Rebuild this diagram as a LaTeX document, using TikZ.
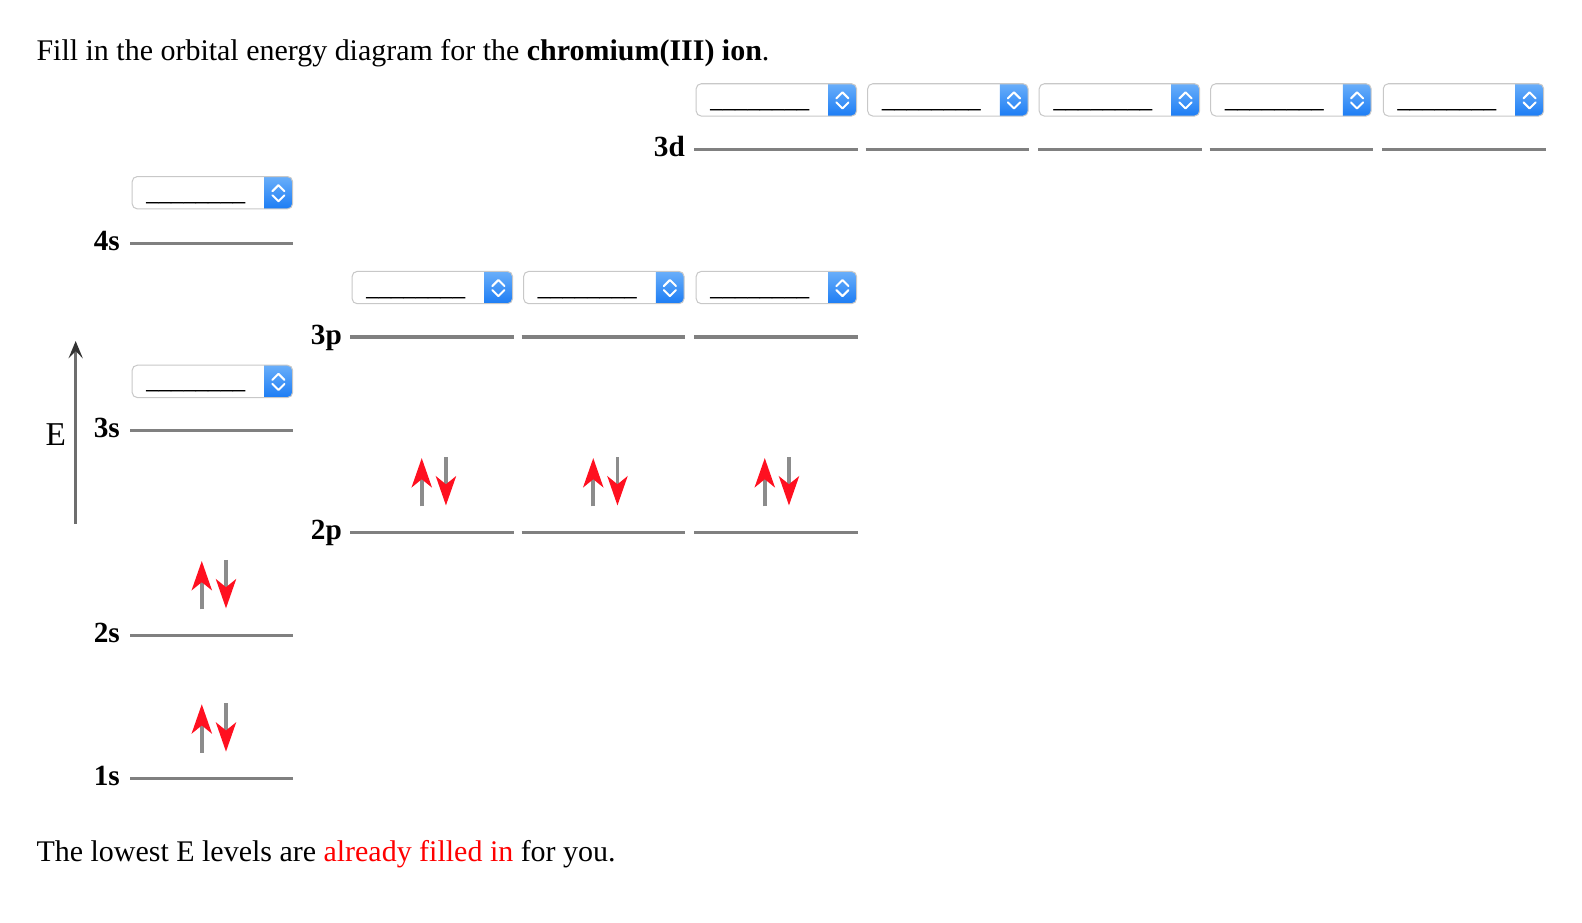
\documentclass[tikz,border=0pt]{standalone}
\usepackage{fontspec}
\setmainfont{Liberation Serif}
\newfontfamily\ddfont{Liberation Sans}
\usetikzlibrary{arrows.meta}
\definecolor{lvl}{HTML}{808080}
\definecolor{ddblueA}{HTML}{6CB0FA}
\definecolor{ddblueB}{HTML}{1A7BF4}
\definecolor{ddborder}{HTML}{C8C8C8}
\definecolor{txtred}{HTML}{FF0000}
\definecolor{spinred}{HTML}{FF1020}
\definecolor{spingray}{HTML}{8C8C8C}
\definecolor{eaxis}{HTML}{6E6E6E}
\newcommand\dropdown[3]{%
  \begin{scope}[shift={(#2,#3)}]
    \fill[white, rounded corners=5pt] (0,0) rectangle (159,32);
    \begin{scope}
      \clip[rounded corners=5pt] (0,0) rectangle (159,32);
      \shade[top color=ddblueA, bottom color=ddblueB] (131,-1) rectangle (160,33);
    \end{scope}
    \draw[ddborder, line width=1pt, rounded corners=5pt] (0,0) rectangle (159,32);
    \draw[chev] (139,14.5) -- (145,8.5) -- (151,14.5);
    \draw[chev] (139,18.5) -- (145,24.5) -- (151,18.5);
    \node[ddtext] (#1) at (14,22.5) {\_\_\_\_\_\_\_\_};
  \end{scope}}
\newcommand\spinpair[2]{%
  \coordinate (ub) at (#1-12,#2-26); \coordinate (ut) at (#1-12,#2-74);
  \coordinate (dt) at (#1+12,#2-75); \coordinate (db) at (#1+12,#2-27);
  \draw[spin] (ub) -- (ut);
  \draw[spin] (dt) -- (db);}
\begin{document}
\begin{tikzpicture}[x=1pt,y=-1pt,
  level/.style={draw=lvl, line width=3pt},
  lbl/.style={font=\fontsize{29}{30}\selectfont\bfseries, anchor=base east, inner sep=0pt},
  body/.style={font=\fontsize{29.7}{31}\selectfont, anchor=base west, inner sep=0pt},
  chev/.style={draw=white, line width=2pt, line cap=round, line join=round},
  ddtext/.style={font=\ddfont\fontsize{22}{24}\selectfont, anchor=base west, inner sep=0pt},
  spin/.style={draw=spingray, line width=3.5pt, -{Stealth[spinred, length=29pt, width=20pt, inset=8pt]}},
]
\useasboundingbox[fill=white] (0,0) rectangle (1568,914);

% title
\node[body] (title) at (36,59.5) {Fill in the orbital energy diagram for the \textbf{chromium(III) ion}.};

% dropdowns
\dropdown{dd3da}{690}{83}
\dropdown{dd3db}{860}{83}
\dropdown{dd3dc}{1030}{83}
\dropdown{dd3dd}{1200}{83}
\dropdown{dd3de}{1371}{83}
\dropdown{dd4s}{131}{175}
\dropdown{dd3pa}{349}{269}
\dropdown{dd3pb}{519}{269}
\dropdown{dd3pc}{690}{269}
\dropdown{dd3s}{131}{362}

% 3d
\node[lbl] (l3d) at (679,155) {3d};
\foreach \a in {688,858,1029,1199,1370} \draw[level] (\a,148) -- ++(162,0);
% 4s
\node[lbl] (l4s) at (119,248) {4s};
\draw[level] (129,241) -- (290,241);
% 3p
\node[lbl] (l3p) at (339,341) {3p};
\foreach \a in {347,517,688} \draw[level] (\a,334) -- ++(162,0);
% 3s
\node[lbl] (l3s) at (119,434) {3s};
\draw[level] (129,427) -- (290,427);
% 2p
\node[lbl] (l2p) at (339,535) {2p};
\foreach \a in {347,517,688} \draw[level] (\a,528) -- ++(162,0);
% 2s
\node[lbl] (l2s) at (119,637) {2s};
\draw[level] (129,630) -- (290,630);
% 1s
\node[lbl] (l1s) at (119,779) {1s};
\draw[level] (129,772) -- (290,772);

% electrons
\spinpair{430}{528}
\spinpair{600}{528}
\spinpair{770}{528}
\spinpair{212}{630}
\spinpair{212}{772}

% energy axis
\coordinate (ebot) at (75,519);
\coordinate (etop) at (75,338);
\draw[eaxis, line width=2.5pt, -{Stealth[black!80, length=17pt, width=14pt, inset=7pt]}] (ebot) -- (etop);
\node[body, font=\fontsize{33}{34}\selectfont] (E) at (45,442) {E};

% bottom text
\node[body] (note) at (36,854) {The lowest E levels are \textcolor{txtred}{already filled in} for you.};
\end{tikzpicture}
\end{document}
